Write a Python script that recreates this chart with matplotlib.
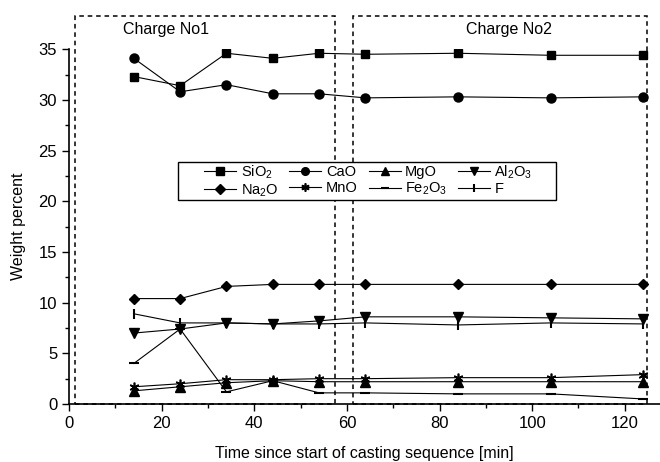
import matplotlib
matplotlib.use("Agg")
import matplotlib.pyplot as plt
import matplotlib.patches as patches
from matplotlib.ticker import MultipleLocator

plt.rcParams['font.family'] = ['Liberation Sans', 'DejaVu Sans']
plt.rcParams['mathtext.default'] = 'regular'

# sampling times [min]
time = [14, 24, 34, 44, 54, 64, 84, 104, 124]

sio2 = [32.3, 31.4, 34.6, 34.1, 34.6, 34.5, 34.6, 34.4, 34.4]
cao = [34.1, 30.8, 31.5, 30.6, 30.6, 30.2, 30.3, 30.2, 30.3]
mgo = [1.3, 1.7, 2.1, 2.3, 2.2, 2.2, 2.2, 2.2, 2.2]
al2o3 = [7.0, 7.4, 8.0, 7.9, 8.2, 8.6, 8.6, 8.5, 8.4]
na2o = [10.4, 10.4, 11.6, 11.8, 11.8, 11.8, 11.8, 11.8, 11.8]
mno = [1.7, 2.0, 2.4, 2.4, 2.5, 2.5, 2.6, 2.6, 2.9]
fe2o3 = [4.0, 7.4, 1.2, 2.3, 1.1, 1.1, 1.0, 1.0, 0.5]
f = [8.9, 8.0, 8.0, 7.9, 7.9, 8.0, 7.8, 8.0, 7.9]

fig = plt.figure(figsize=(6.6, 4.62), dpi=100)
ax = fig.add_axes([0.1045, 0.1255, 0.8955, 0.768])

style = dict(color='black', lw=0.8)
h_sio2, = ax.plot(time, sio2, marker='s', ms=6, label='SiO$_2$', **style)
h_cao, = ax.plot(time, cao, marker='o', ms=6.5, label='CaO', **style)
h_mgo, = ax.plot(time, mgo, marker='^', ms=6.5, label='MgO', **style)
h_al, = ax.plot(time, al2o3, marker='v', ms=6.5, label='Al$_2$O$_3$', **style)
h_na, = ax.plot(time, na2o, marker='D', ms=5.5, label='Na$_2$O', **style)
h_mno, = ax.plot(time, mno, marker=(6, 2, 0), ms=7, mew=1.2, label='MnO', **style)
h_fe, = ax.plot(time, fe2o3, marker='_', ms=7, mew=1.5, label='Fe$_2$O$_3$', **style)
h_f, = ax.plot(time, f, marker='|', ms=7, mew=1.5, label='F', **style)

ax.set_xlim(0, 127.6)
ax.set_ylim(0, 35)
ax.xaxis.set_major_locator(MultipleLocator(20))
ax.xaxis.set_minor_locator(MultipleLocator(10))
ax.yaxis.set_major_locator(MultipleLocator(5))
ax.yaxis.set_minor_locator(MultipleLocator(2.5))
ax.tick_params(which='major', direction='out', length=5, width=1, labelsize=12)
ax.tick_params(which='minor', direction='out', length=3, width=1)
ax.spines['top'].set_visible(False)
ax.spines['right'].set_visible(False)
ax.spines['left'].set_linewidth(1.2)
ax.spines['bottom'].set_linewidth(1.2)

ax.set_xlabel('Time since start of casting sequence [min]', fontsize=11.5, labelpad=11)
ax.set_ylabel('Weight percent', fontsize=11.5, labelpad=9)

# charge boxes
for x0, x1 in [(1.3, 57.5), (61.3, 124.7)]:
    rect = patches.Rectangle((x0, 0), x1 - x0, 38.3, fill=False,
                             ls=(0, (3, 2.5)), lw=1.1, ec='black', clip_on=False)
    ax.add_patch(rect)
ax.text(21, 36.9, 'Charge No1', ha='center', va='center', fontsize=11.5, clip_on=False)
ax.text(95, 36.9, 'Charge No2', ha='center', va='center', fontsize=11.5, clip_on=False)

handles = [h_sio2, h_na, h_cao, h_mno, h_mgo, h_fe, h_al, h_f]
leg = ax.legend(handles=handles, ncol=4, loc='upper left', bbox_to_anchor=(0.229, 0.678),
                fontsize=10.5, frameon=False, handlelength=2.2,
                columnspacing=0.75, handletextpad=0.3, labelspacing=0.1,
                borderpad=0, borderaxespad=0, markerscale=0.85)
leg.set_zorder(6)
# legend frame (wide left padding like the original), white so the dashed boxes stop at it
ax.add_patch(patches.Rectangle((0.1844, 0.5746), 0.824 - 0.1844, 0.6817 - 0.5746,
                               transform=ax.transAxes, fc='white', ec='black', lw=1.0,
                               zorder=5))

fig.savefig('out.png', dpi=100)
